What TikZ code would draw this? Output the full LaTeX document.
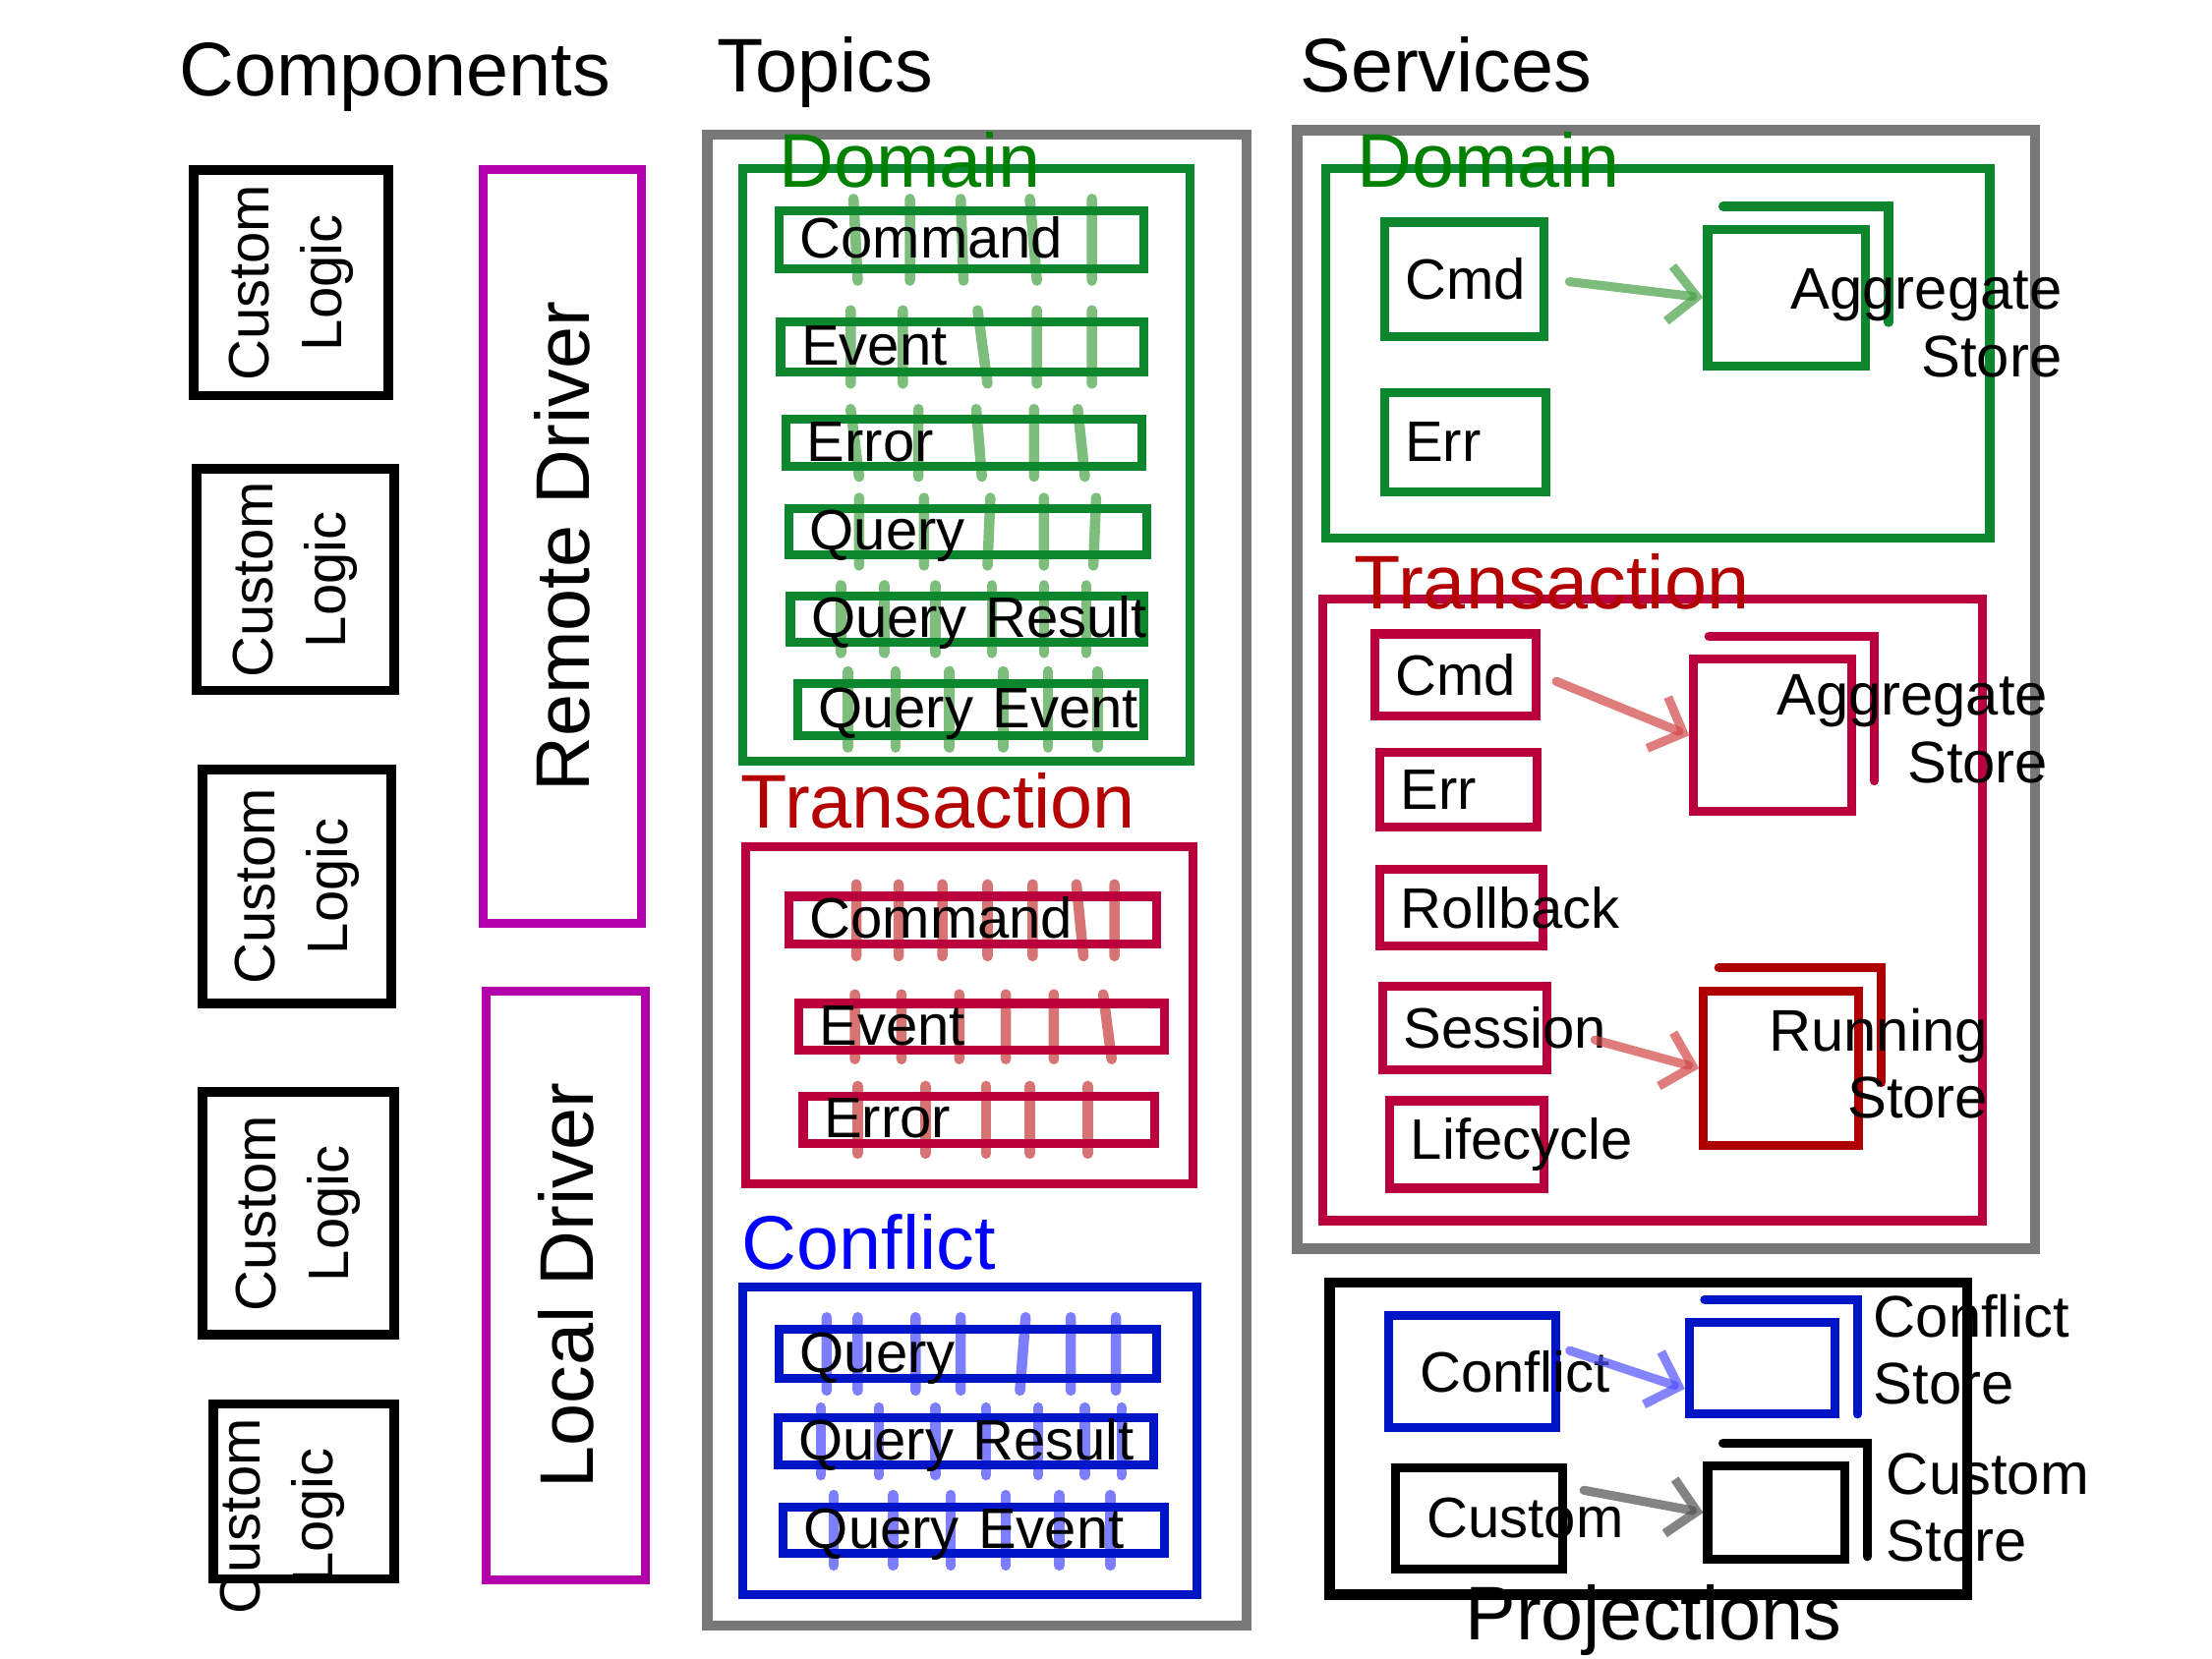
\documentclass[tikz,border=0pt]{standalone}
\usepackage{fontspec}
\setmainfont{Liberation Sans}
\usepackage{tikz}
\usetikzlibrary{positioning}
\usetikzlibrary{arrows.meta}
\usepackage{xcolor}

\definecolor{framegray}{RGB}{120,120,120}
\definecolor{domline}{RGB}{12,135,45}
\definecolor{domtext}{RGB}{0,128,0}
\definecolor{domhatch}{RGB}{125,190,125}
\definecolor{trline}{RGB}{185,0,60}
\definecolor{trtext}{RGB}{180,0,0}
\definecolor{trhatch}{RGB}{215,115,115}
\definecolor{runline}{RGB}{175,0,0}
\definecolor{cfline}{RGB}{0,20,200}
\definecolor{cftext}{RGB}{0,0,255}
\definecolor{cfhatch}{RGB}{125,125,255}
\definecolor{drvline}{RGB}{178,0,170}
\definecolor{arrgreen}{RGB}{70,160,70}
\definecolor{arrred}{RGB}{210,70,70}
\definecolor{arrblue}{RGB}{80,80,255}
\definecolor{arrgray}{RGB}{80,80,80}

\def\px{0.01435cm}
\newcommand{\bodyfont}{\fontsize{16.5}{21}\selectfont\hyphenpenalty=10000\relax}
\newcommand{\headfont}{\fontsize{22}{26}\selectfont}
\newcommand{\backpage}[3]{%
\draw[#2, line width=2.6pt, line cap=round] ([shift={(14,-13)}]#1.north west) -| ([shift={(13,-#3)}]#1.south east);}

\tikzset{
  bigframe/.style={draw=framegray, line width=3pt, inner sep=0pt},
  grpbox/.style={draw=#1, line width=2.6pt, inner sep=0pt},
  heading/.style={font=\headfont, inner sep=0pt},
  logic/.style={draw, line width=2.8pt, rotate=90, align=center, font=\bodyfont, inner sep=0pt},
  driver/.style={draw=drvline, line width=2.6pt, rotate=90, font=\headfont, inner sep=0pt},
  topic/.style={draw=#1, line width=2.6pt, inner xsep=6pt, inner ysep=0pt,
    text height=12pt, text depth=1.5pt, align=left, font=\bodyfont},
  hatchline/.style={draw=#1, line width=3pt, line cap=round},
  svc/.style={draw=#1, line width=2.6pt, inner xsep=6pt, align=left, font=\bodyfont},
  store/.style={draw=#1, line width=2.6pt, inner sep=0pt},
  storetext/.style={font=\fontsize{17}{19.5}\selectfont, inner sep=0pt},
  flowarrow/.style={draw=#1, line width=2.6pt, opacity=.7, line cap=round,
    -{Straight Barb[length=8pt, width=16pt]}}
}

\begin{document}
\begin{tikzpicture}[x=\px, y=-\px]
\useasboundingbox (0,0) rectangle (1568,1176);

\node[heading, anchor=base] (hcomp) at (280,68) {Components};
\node[heading, anchor=base] (htop) at (585,65) {Topics};
\node[heading, anchor=base] (hsvc) at (1025,65) {Services};

% components
\node[logic, minimum width=160*\px, minimum height=138*\px] (cl1) at (206.5,200.5) {Custom\\Logic};
\node[logic, minimum width=157*\px, minimum height=140*\px] (cl2) at (209.5,411) {Custom\\Logic};
\node[logic, minimum width=166*\px, minimum height=134*\px] (cl3) at (210.5,628.5) {Custom\\Logic};
\node[logic, minimum width=172*\px, minimum height=136*\px] (cl4) at (211.5,860.5) {Custom\\Logic};
\node[logic, minimum width=124*\px, minimum height=128*\px] (cl5) at (215.5,1057.5) {};
\node[logic, draw=none] (cl5-t) at (200,1075) {Custom\\Logic};
\node[driver, minimum width=534*\px, minimum height=112*\px] (remote) at (398.5,387.5) {Remote Driver};
\node[driver, minimum width=418*\px, minimum height=113*\px] (local) at (401,911.5) {Local Driver};

% topics
\node[bigframe, minimum width=382*\px, minimum height=1057*\px] (topics) at (692.5,624) {};
\node[grpbox=domline, minimum width=317*\px, minimum height=420*\px] (tdom) at (685,329.5) {};
\node[heading, text=domtext, anchor=base] (tdom-t) at (645,133) {Domain};
\draw[hatchline=domhatch] (605,141)--(608,199) (645,141)--(645,199) (681,141)--(683,199) (730,141)--(735,199) (774,141)--(774,199);
\draw[hatchline=domhatch] (603,220)--(603,272) (640,220)--(640,272) (693,220)--(700,272) (735,220)--(735,272) (774,220)--(774,272);
\draw[hatchline=domhatch] (603,290)--(609,338) (651,290)--(651,338) (692,290)--(696,338) (733,290)--(733,338) (764,290)--(769,338);
\draw[hatchline=domhatch] (609,353)--(609,401) (655,353)--(655,401) (702,353)--(700,401) (740,353)--(740,401) (777,353)--(775,401);
\draw[hatchline=domhatch] (596,415)--(596,463) (627,415)--(627,463) (663,415)--(663,463) (703,415)--(703,463) (740,415)--(740,463) (770,415)--(770,463);
\draw[hatchline=domhatch] (601,476)--(601,530) (635,476)--(635,530) (673,476)--(673,530) (711,476)--(711,530) (743,476)--(743,530) (778,476)--(778,530);
\node[topic=domline, minimum height=41*\px, text width=229*\px] (dom-cmd) at (681.5,170) {Command};
\node[topic=domline, minimum height=35*\px, text width=228*\px] (dom-evt) at (682,246) {Event};
\node[topic=domline, minimum height=31*\px, text width=223*\px] (dom-err) at (683.5,314) {Error};
\node[topic=domline, minimum height=31*\px, text width=224*\px] (dom-qry) at (686,377) {Query};
\node[topic=domline, minimum height=31*\px, text width=221*\px] (dom-res) at (685.5,439) {Query~Result};
\node[topic=domline, minimum height=37*\px, text width=216*\px] (dom-qev) at (688,503) {Query~Event};

\node[grpbox=trline, minimum width=317*\px, minimum height=239*\px] (ttx) at (687,720) {};
\node[heading, text=trtext, anchor=base] (ttx-t) at (665,587) {Transaction};
\draw[hatchline=trhatch] (607,627)--(607,678) (637,627)--(637,678) (668,627)--(668,678) (700,627)--(700,678) (732,627)--(732,678) (763,627)--(768,678) (790,627)--(790,678);
\draw[hatchline=trhatch] (606,705)--(606,751) (639,705)--(639,751) (680,705)--(680,751) (713,705)--(713,751) (747,705)--(747,751) (782,705)--(788,751);
\draw[hatchline=trhatch] (608,770)--(608,818) (656,770)--(656,818) (699,770)--(699,818) (730,770)--(730,818) (771,770)--(771,818);
\node[topic=trline, minimum height=34*\px, text width=231*\px] (tx-cmd) at (689.5,652.5) {Command};
\node[topic=trline, minimum height=29*\px, text width=230*\px] (tx-evt) at (696,728) {Event};
\node[topic=trline, minimum height=31*\px, text width=220*\px] (tx-err) at (694,794) {Error};

\node[grpbox=cfline, minimum width=322*\px, minimum height=218*\px] (tcf) at (687.5,1021.5) {};
\node[heading, text=cftext, anchor=base] (tcf-t) at (616,900) {Conflict};
\draw[hatchline=cfhatch] (586,934)--(586,986) (608,934)--(608,986) (649,934)--(649,986) (681,934)--(681,986) (727,934)--(723,986) (759,934)--(759,986) (791,934)--(791,986);
\draw[hatchline=cfhatch] (582,998)--(582,1046) (623,998)--(623,1046) (663,998)--(663,1046) (699,998)--(699,1046) (736,998)--(736,1046) (769,998)--(769,1046) (795,998)--(795,1046);
\draw[hatchline=cfhatch] (591,1060)--(591,1110) (633,1060)--(633,1110) (674,1060)--(674,1110) (713,1060)--(713,1110) (751,1060)--(751,1110) (787,1060)--(787,1110);
\node[topic=cfline, minimum height=35*\px, text width=238*\px] (cf-qry) at (686,960) {Query};
\node[topic=cfline, minimum height=31*\px, text width=237*\px] (cf-res) at (684.5,1022) {Query~Result};
\node[topic=cfline, minimum height=33*\px, text width=241*\px] (cf-qev) at (690.5,1085) {Query~Event};

% services
\node[bigframe, minimum width=523*\px, minimum height=793*\px] (services) at (1181,489) {};
\node[grpbox=domline, minimum width=471*\px, minimum height=262*\px] (sdom) at (1175,250.5) {};
\node[heading, text=domtext, anchor=base] (sdom-t) at (1055,133) {Domain};
\node[svc=domline, text width=84*\px, minimum height=81*\px] (sd-cmd) at (1038,198) {Cmd};
\node[svc=domline, text width=85*\px, minimum height=70*\px] (sd-err) at (1038.5,313.5) {Err};
\node[store=domline, minimum width=112*\px, minimum height=97*\px] (sd-agg) at (1266.5,211) {};
\backpage{sd-agg}{domline}{34}
\node[storetext, align=right] (sd-agg-t) at (1365.5,229) {Aggregate\\Store};
\draw[flowarrow=arrgreen, shorten <=6pt] (sd-cmd.east) -- (sd-agg.west);

\node[grpbox=trline, minimum width=468*\px, minimum height=441*\px] (stx) at (1171.5,645) {};
\node[heading, text=trtext, anchor=base] (stx-t) at (1100,432) {Transaction};
\node[svc=trline, text width=85*\px, minimum height=58*\px] (st-cmd) at (1031.5,478.5) {Cmd};
\node[svc=trline, text width=82*\px, minimum height=53*\px] (st-err) at (1034,560) {Err};
\node[svc=trline, text width=86*\px, minimum height=54*\px] (st-rb) at (1036,643.5) {Rollback};
\node[svc=trline, text width=87*\px, minimum height=59*\px] (st-ses) at (1038.5,729) {Session};
\node[svc=trline, text width=80*\px, minimum height=62*\px] (st-life) at (1040,811.5) {Lifecycle};
\node[store=trline, minimum width=112*\px, minimum height=108*\px] (st-agg) at (1256.5,521.5) {};
\backpage{st-agg}{trline}{25}
\node[storetext, align=right] (st-agg-t) at (1355.5,517) {Aggregate\\Store};
\node[store=runline, minimum width=110*\px, minimum height=110*\px] (st-run) at (1262.5,757.5) {};
\backpage{st-run}{runline}{48}
\node[storetext, align=right] (st-run-t) at (1331.5,754) {Running\\Store};
\draw[flowarrow=arrred, shorten <=5pt] (st-cmd.east) -- (st-agg.west);
\draw[flowarrow=arrred, shorten <=13pt] (st-ses.east) -- (st-run.west);

% projections
\node[draw, line width=3pt, inner sep=0pt, minimum width=452*\px, minimum height=221*\px] (proj) at (1168.5,1020) {};
\node[heading, anchor=base] (proj-t) at (1172,1163) {Projections};
\node[svc=cfline, inner xsep=9pt, text width=74*\px, minimum height=80*\px] (pj-conf) at (1043.5,972.5) {Conflict};
\node[svc=black, inner xsep=9pt, text width=74*\px, minimum height=72*\px] (pj-cust) at (1048.5,1076.5) {Custom};
\node[store=cfline, minimum width=103*\px, minimum height=65*\px] (pj-cstore) at (1249,970) {};
\backpage{pj-cstore}{cfline}{3}
\node[storetext, align=left] (pj-cstore-t) at (1397.5,957) {Conflict\\Store};
\node[store=black, minimum width=97*\px, minimum height=66*\px] (pj-ustore) at (1259,1072.5) {};
\backpage{pj-ustore}{black}{5}
\node[storetext, align=left] (pj-ustore-t) at (1409,1069) {Custom\\Store};
\draw[flowarrow=arrblue, shorten <=3pt] ([yshift=7pt]pj-conf.east) -- ([yshift=-6pt]pj-cstore.west);
\draw[flowarrow=arrgray, shorten <=5pt] ([yshift=9pt]pj-cust.east) -- (pj-ustore.west);
\end{tikzpicture}
\end{document}
